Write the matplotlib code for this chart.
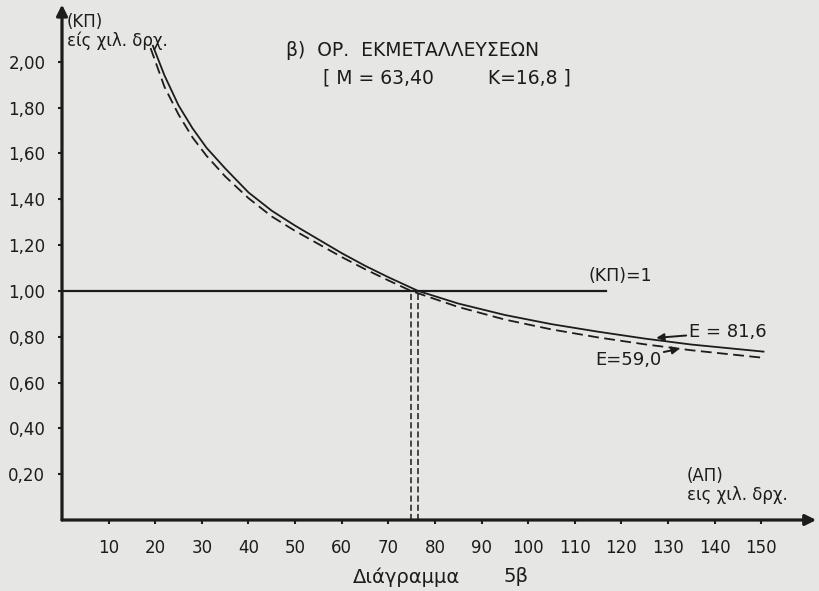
import numpy as np
import matplotlib
matplotlib.use('Agg')
import matplotlib.pyplot as plt

# Curve E=81,6 (solid)
ap_solid = [19.5, 22, 25, 28, 31, 35, 40, 45, 50, 55, 60, 65, 70, 76.4,
            85, 95, 105, 115, 125, 135, 150.5]
kp_solid = [2.07, 1.94, 1.81, 1.71, 1.625, 1.535, 1.43, 1.35, 1.285, 1.225,
            1.165, 1.11, 1.06, 1.00, 0.945, 0.895, 0.855, 0.822, 0.792, 0.766, 0.735]

# Curve E=59,0 (dashed)
ap_dashed = [19.0, 22, 25, 28, 31, 35, 40, 45, 50, 55, 60, 65, 70, 74.9,
             85, 95, 105, 115, 125, 135, 150.5]
kp_dashed = [2.06, 1.89, 1.77, 1.67, 1.59, 1.50, 1.405, 1.325, 1.262, 1.205,
             1.148, 1.095, 1.046, 1.00, 0.93, 0.875, 0.832, 0.797, 0.767, 0.741, 0.708]

# Break-even abscissas
break_even = [74.9, 76.4]

x_ticks = [10, 20, 30, 40, 50, 60, 70, 80, 90, 100, 110, 120, 130, 140, 150]
y_ticks = [0.2, 0.4, 0.6, 0.8, 1.0, 1.2, 1.4, 1.6, 1.8, 2.0]
y_labels = ['0,20', '0,40', '0,60', '0,80', '1,00', '1,20', '1,40', '1,60', '1,80', '2,00']

ink = '#1c1c1c'
paper = '#e6e6e4'

fig = plt.figure(figsize=(8.19, 5.91), dpi=100)
fig.patch.set_facecolor(paper)
ax = fig.add_axes([62 / 819, 71 / 591, 757 / 819, 520 / 591])
ax.set_facecolor(paper)
ax.set_xlim(0, 162.4)
ax.set_ylim(0, 2.27)

for s in ax.spines.values():
    s.set_visible(False)

# axes with arrows
ax.annotate('', xy=(161.8, 0), xytext=(0, 0), annotation_clip=False,
            arrowprops=dict(arrowstyle='-|>', lw=2.3, color=ink, mutation_scale=16,
                            shrinkA=0, shrinkB=0))
ax.annotate('', xy=(0, 2.25), xytext=(0, 0), annotation_clip=False,
            arrowprops=dict(arrowstyle='-|>', lw=2.3, color=ink, mutation_scale=16,
                            shrinkA=0, shrinkB=0))

ax.set_xticks(x_ticks)
ax.set_xticklabels([str(v) for v in x_ticks])
ax.set_yticks(y_ticks)
ax.set_yticklabels(y_labels)
ax.tick_params(axis='both', direction='out', length=3, width=1.5, color=ink,
               labelsize=12, labelcolor=ink)
ax.tick_params(axis='x', pad=11)
ax.tick_params(axis='y', pad=9)

# curves
ax.plot(ap_solid, kp_solid, color=ink, lw=1.3)
ax.plot(ap_dashed, kp_dashed, color=ink, lw=1.3, dashes=(6, 3))

# (KP)=1 line
ax.plot([0, 116.7], [1.0, 1.0], color=ink, lw=1.6)
ax.text(113, 1.065, '(ΚΠ)=1', fontsize=12.5, color=ink, va='center', ha='left')

# break-even verticals
for xv in break_even:
    ax.plot([xv, xv], [0, 1.0], color=ink, lw=1.1, dashes=(4, 2))

# curve labels
ax.annotate('E = 81,6', xy=(127.5, 0.795), xytext=(134.5, 0.82),
            fontsize=13, color=ink, va='center', ha='left',
            arrowprops=dict(arrowstyle='-|>', lw=1.4, color=ink, mutation_scale=11,
                            shrinkA=0, shrinkB=0))
ax.annotate('E=59,0', xy=(132.5, 0.748), xytext=(114.3, 0.70),
            fontsize=13, color=ink, va='center', ha='left',
            arrowprops=dict(arrowstyle='-|>', lw=1.4, color=ink, mutation_scale=11,
                            shrinkA=0, shrinkB=0))

# axis titles
ax.text(1.0, 2.175, '(ΚΠ)', fontsize=12, color=ink, va='center', ha='left')
ax.text(1.0, 2.09, 'είς χιλ. δρχ.', fontsize=12, color=ink, va='center', ha='left')
ax.text(134, 0.19, '(ΑΠ)', fontsize=12, color=ink, va='center', ha='left')
ax.text(134, 0.11, 'εις χιλ. δρχ.', fontsize=12, color=ink, va='center', ha='left')

# title
ax.text(48, 2.05, 'β)  ΟΡ.  ΕΚΜΕΤΑΛΛΕΥΣΕΩΝ', fontsize=13.5, color=ink,
        va='center', ha='left')
ax.text(56, 1.93, '[ Μ = 63,40         Κ=16,8 ]', fontsize=13.5, color=ink,
        va='center', ha='left')

# caption
fig.text(353 / 819, 1 - 577 / 591, 'Διάγραμμα', fontsize=14, color=ink,
         va='center', ha='left')
fig.text(516 / 819, 1 - 577 / 591, '5β', fontsize=14, color=ink,
         va='center', ha='center')

fig.savefig('out.png', dpi=100, facecolor=paper)
